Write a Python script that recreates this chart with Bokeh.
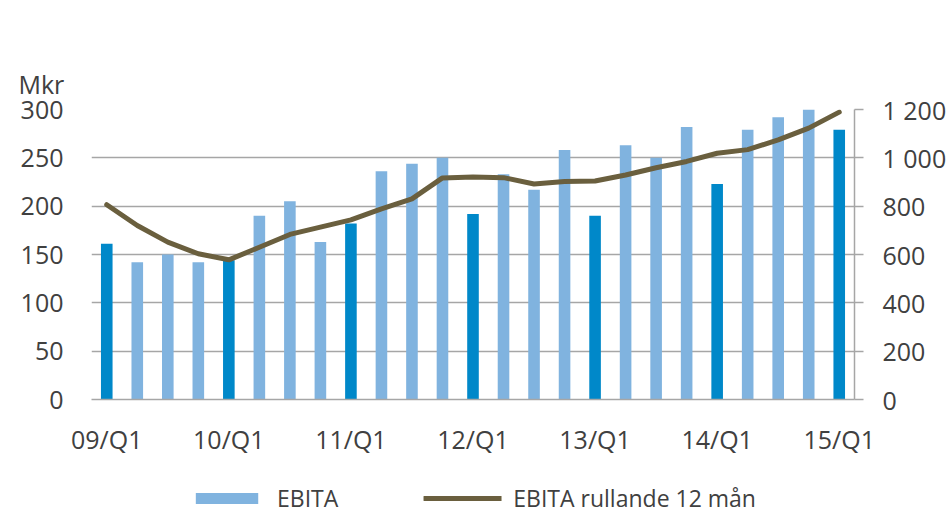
from bokeh.plotting import figure
from bokeh.layouts import column
from bokeh.models import (Range1d, LinearAxis, FixedTicker, Legend,
                          LegendItem, ColumnDataSource, Title)
from bokeh.embed import file_html
from bokeh.resources import INLINE

quarters = ["09/Q1", "09/Q2", "09/Q3", "09/Q4",
            "10/Q1", "10/Q2", "10/Q3", "10/Q4",
            "11/Q1", "11/Q2", "11/Q3", "11/Q4",
            "12/Q1", "12/Q2", "12/Q3", "12/Q4",
            "13/Q1", "13/Q2", "13/Q3", "13/Q4",
            "14/Q1", "14/Q2", "14/Q3", "14/Q4",
            "15/Q1"]
ebita = [161, 142, 150, 142,
         144, 190, 205, 163,
         182, 236, 244, 250,
         192, 233, 217, 258,
         190, 263, 250, 282,
         223, 279, 292, 332,
         279]
rolling = [806, 720, 651, 603,
           578, 630, 683, 713,
           743, 789, 830, 917,
           921, 918, 892, 902,
           904, 929, 959, 985,
           1019, 1034, 1074, 1123,
           1189]
left_ticks = [0, 50, 100, 150, 200, 250, 300]
right_ticks = [0, 200, 400, 600, 800, 1000, 1200]
right_labels = {1000: "1 000", 1200: "1 200"}

DARK = "#0088C9"
LIGHT = "#80B3DF"
LINE = "#6A5F3E"
GRID = "#A6A6A6"
TXT = "#404040"
FONT = "Open Sans"

idx = list(range(len(quarters)))
bar_colors = [DARK if q.endswith("Q1") else LIGHT for q in quarters]
src = ColumnDataSource(dict(i=idx, q=quarters, ebita=ebita, rolling=rolling, color=bar_colors))
q1_ticks = [i for i, q in enumerate(quarters) if q.endswith("Q1")]
x_labels = {i: quarters[i] for i in q1_ticks}

p = figure(frame_width=763, frame_height=290,
           x_range=Range1d(-0.5, len(quarters) - 0.5),
           y_range=Range1d(0, 300),
           output_backend="svg", toolbar_location=None,
           min_border_left=91, min_border_right=93,
           min_border_top=109, min_border_bottom=66)
p.extra_y_ranges = {"right": Range1d(0, 1200)}
p.outline_line_color = None
p.background_fill_color = "white"
p.border_fill_color = "white"

xa = p.xaxis[0]
ya = p.yaxis[0]

bars = p.vbar(x="i", top="ebita", width=0.38, fill_color="color", line_color=None, source=src)
line = p.line(x="i", y="rolling", y_range_name="right", line_width=5, line_color=LINE,
              line_join="round", line_cap="round", source=src)

# x axis
xa.ticker = FixedTicker(ticks=q1_ticks)
xa.major_label_overrides = x_labels
xa.axis_line_color = GRID
xa.axis_line_width = 1.5
xa.major_tick_line_color = None
xa.minor_tick_line_color = None
xa.major_tick_out = 0
xa.major_tick_in = 0
xa.major_label_standoff = 22
xa.major_label_text_font = FONT
xa.major_label_text_font_size = "25px"
xa.major_label_text_color = TXT

# left axis
ya.ticker = FixedTicker(ticks=left_ticks)
ya.axis_line_color = None
ya.major_tick_line_color = None
ya.minor_tick_line_color = None
ya.major_tick_out = 0
ya.major_label_standoff = 28
ya.major_label_text_font = FONT
ya.major_label_text_font_size = "25px"
ya.major_label_text_color = TXT

# right axis
ra = LinearAxis(y_range_name="right", ticker=FixedTicker(ticks=right_ticks),
                major_label_overrides=right_labels)
ra.axis_line_color = GRID
ra.axis_line_width = 1.5
ra.major_tick_line_color = GRID
ra.major_tick_line_width = 1.5
ra.major_tick_out = 9
ra.major_tick_in = 0
ra.minor_tick_line_color = None
ra.major_label_standoff = 19
ra.major_label_text_font = FONT
ra.major_label_text_font_size = "25px"
ra.major_label_text_color = TXT
p.add_layout(ra, "right")

p.xgrid.grid_line_color = None
p.ygrid.ticker = FixedTicker(ticks=left_ticks)
p.ygrid.grid_line_color = GRID
p.ygrid.grid_line_width = 1.5

# space between plot and "Mkr" (an empty axis whose tick length reserves room)
spacer = LinearAxis(ticker=FixedTicker(ticks=[]))
spacer.axis_line_color = None
spacer.major_tick_line_color = "white"
spacer.minor_tick_line_color = None
spacer.major_tick_out = 61
spacer.major_tick_in = 0
spacer.minor_tick_out = 0
spacer.major_label_standoff = 0
p.add_layout(spacer, "above")
p.add_layout(Title(text="Mkr", align="left", offset=-73, standoff=14,
                   vertical_align="top",
                   text_font=FONT, text_font_size="25px", text_font_style="normal",
                   text_color=TXT), "above")

# legend strip below the chart (frame aligned with the chart's frame)
lf = figure(width=947, height=50, x_range=Range1d(0, 1), y_range=Range1d(0, 1),
            output_backend="svg", toolbar_location=None,
            min_border_left=91, min_border_right=93,
            min_border_top=16, min_border_bottom=0)
lf.xaxis.visible = False
lf.yaxis.visible = False
lf.xgrid.grid_line_color = None
lf.ygrid.grid_line_color = None
lf.outline_line_color = None
lf.background_fill_color = "white"
lf.border_fill_color = "white"
# legend keys only (placed outside the visible range)
bar_key = lf.vbar(x=[-5], top=[0], width=0.38, fill_color=LIGHT, line_color=None)
line_key = lf.line(x=[-6, -5], y=[0, 0], line_width=5, line_color=LINE, line_cap="round")

legend = Legend(items=[LegendItem(label="EBITA", renderers=[bar_key]),
                       LegendItem(label="EBITA rullande 12 mån", renderers=[line_key])],
                orientation="horizontal", location="center",
                glyph_width=78, glyph_height=14, label_standoff=12, spacing=85,
                padding=0, margin=0, border_line_color=None,
                background_fill_alpha=0,
                label_text_font=FONT, label_text_font_size="23px",
                label_text_color=TXT)
lf.add_layout(legend)

open("out.html", "w").write(file_html(column(p, lf, spacing=0), INLINE))
